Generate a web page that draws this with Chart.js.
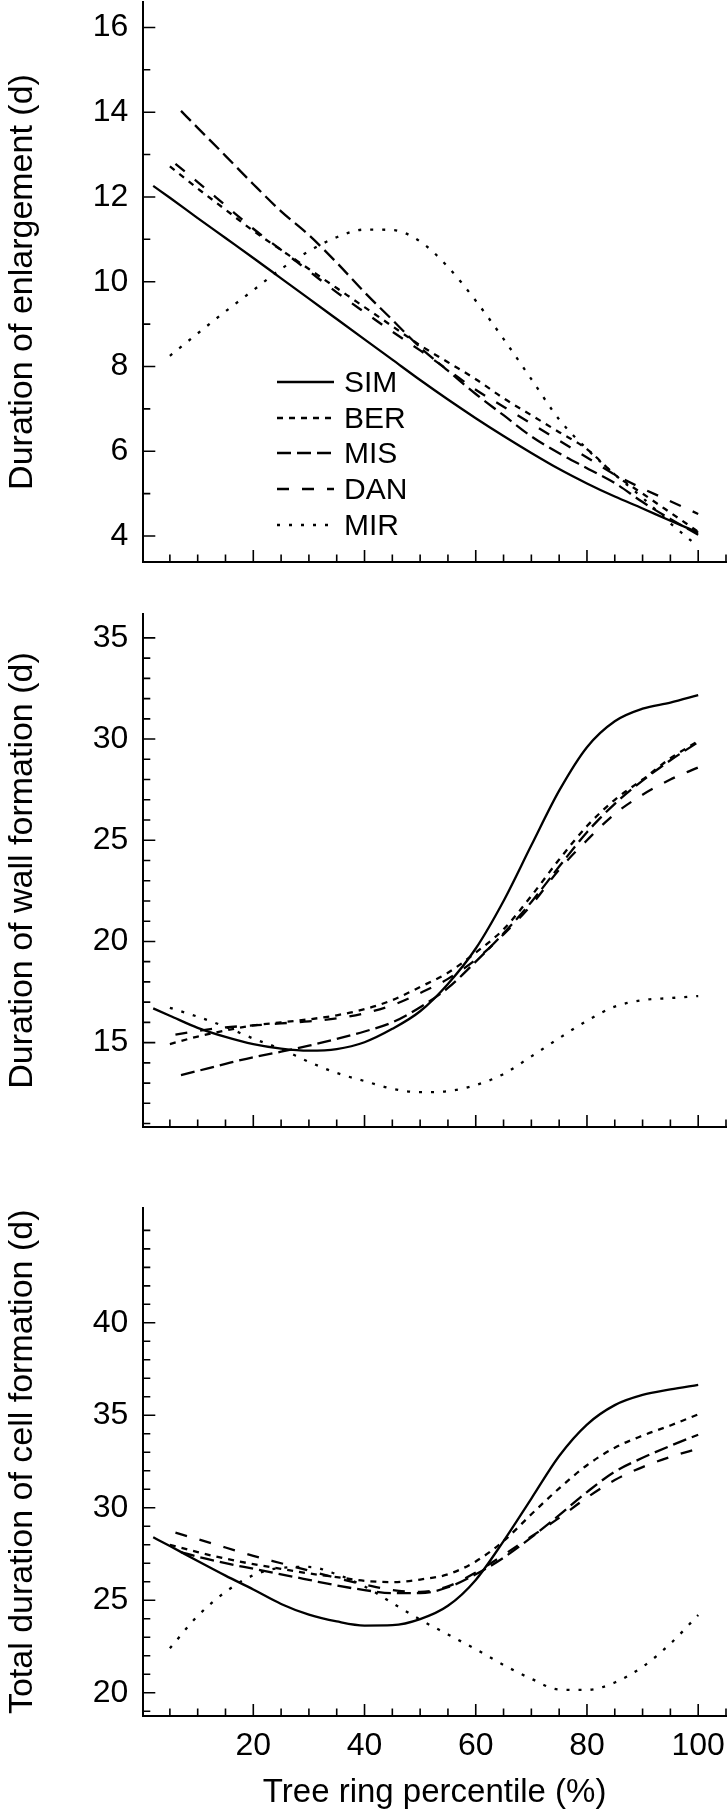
<!DOCTYPE html>
<html>
<head>
<meta charset="utf-8">
<script src="https://cdn.jsdelivr.net/npm/chart.js@4.4.1/dist/chart.umd.min.js"></script>
<style>
  html, body { margin: 0; padding: 0; background: #fff; }
  body { position: relative; width: 728px; height: 1813px; overflow: hidden; font-family: "Liberation Sans", Arial, sans-serif; }
  canvas { position: absolute; left: 0; }
  #legend { position: absolute; left: 277px; top: 364px; }
  .row { display: flex; align-items: center; height: 35.8px; line-height: 30px; font-size: 30px; color: #000; }
  .row svg { margin-right: 10px; }
</style>
</head>
<body>
<canvas id="enl" width="728" height="600" style="top:0;width:728px;height:600px"></canvas>
<canvas id="wall" width="728" height="580" style="top:600px;width:728px;height:580px"></canvas>
<canvas id="total" width="728" height="633" style="top:1180px;width:728px;height:633px"></canvas>
<div id="legend"></div>
<script>
// tree ring percentile (x) for each series
const pctSim = [2, 5, 10, 15, 20, 25, 30, 35, 40, 45, 50, 55, 60, 65, 70, 75, 80, 85, 90, 95, 100]
const pctBer = [5, 10, 15, 20, 25, 30, 35, 40, 45, 50, 55, 60, 65, 70, 75, 80, 85, 90, 95, 100]
const pctMis = [7, 10, 15, 20, 25, 30, 35, 40, 45, 50, 55, 60, 65, 70, 75, 80, 85, 90, 95, 100]
const pctDan = [6, 10, 15, 20, 25, 30, 35, 40, 45, 50, 55, 60, 65, 70, 75, 80, 85, 90, 95, 100]
const pctMir = [5, 10, 15, 20, 25, 30, 35, 40, 45, 50, 55, 60, 65, 70, 75, 80, 85, 90, 95, 100]

const seriesNames = ['SIM', 'BER', 'MIS', 'DAN', 'MIR']

// duration of enlargement (d)
const enlSim = [12.26, 11.98, 11.5, 11.03, 10.56, 10.08, 9.6, 9.12, 8.64, 8.16, 7.68, 7.22, 6.78, 6.36, 5.96, 5.58, 5.24, 4.93, 4.65, 4.36, 4.08]
const enlBer = [12.72, 12.2, 11.7, 11.2, 10.75, 10.3, 9.85, 9.4, 8.95, 8.5, 8.1, 7.7, 7.25, 6.85, 6.45, 6.05, 5.45, 5.0, 4.55, 4.1]
const enlMis = [14.03, 13.63, 12.97, 12.3, 11.66, 11.1, 10.45, 9.75, 9.1, 8.45, 7.9, 7.35, 6.85, 6.35, 5.95, 5.6, 5.25, 4.8, 4.4, 4.03]
const enlDan = [12.78, 12.35, 11.8, 11.25, 10.75, 10.25, 9.75, 9.28, 8.82, 8.38, 7.92, 7.45, 7.05, 6.65, 6.25, 5.85, 5.45, 5.12, 4.82, 4.52]
const enlMir = [8.25, 8.78, 9.3, 9.8, 10.3, 10.72, 11.05, 11.23, 11.22, 10.95, 10.35, 9.55, 8.65, 7.7, 6.75, 6.05, 5.45, 4.9, 4.3, 3.75]

// duration of wall formation (d)
const wallSim = [16.69, 16.33, 15.73, 15.28, 14.92, 14.7, 14.6, 14.68, 15.02, 15.68, 16.55, 17.9, 19.65, 22.0, 24.75, 27.45, 29.6, 30.88, 31.5, 31.8, 32.17]
const wallBer = [14.93, 15.3, 15.6, 15.85, 16.0, 16.15, 16.35, 16.65, 17.1, 17.75, 18.45, 19.45, 20.6, 22.25, 24.05, 25.7, 27.0, 28.0, 29.05, 29.9]
const wallMis = [13.39, 13.6, 13.95, 14.28, 14.55, 14.85, 15.18, 15.55, 16.0, 16.75, 17.7, 19.0, 20.4, 21.95, 23.7, 25.4, 26.8, 27.95, 28.95, 29.85]
const wallDan = [15.4, 15.58, 15.75, 15.85, 15.95, 16.05, 16.2, 16.45, 16.85, 17.45, 18.15, 19.1, 20.35, 21.8, 23.55, 25.0, 26.3, 27.25, 28.0, 28.6]
const wallMir = [16.72, 16.28, 15.78, 15.2, 14.68, 14.05, 13.5, 13.1, 12.72, 12.55, 12.6, 12.9, 13.45, 14.32, 15.22, 16.08, 16.78, 17.1, 17.2, 17.3]

// total duration of cell formation (d)
const totSim = [28.4, 27.93, 27.12, 26.33, 25.58, 24.8, 24.22, 23.85, 23.63, 23.65, 23.98, 24.7, 26.1, 28.2, 30.5, 32.8, 34.5, 35.55, 36.1, 36.4, 36.65]
const totBer = [28.0, 27.6, 27.25, 26.95, 26.7, 26.45, 26.25, 26.05, 25.98, 26.12, 26.4, 27.1, 28.2, 29.65, 31.05, 32.3, 33.25, 33.9, 34.45, 35.05]
const totMis = [27.6, 27.35, 27.0, 26.7, 26.4, 26.1, 25.8, 25.55, 25.38, 25.38, 25.7, 26.4, 27.3, 28.4, 29.6, 30.85, 31.95, 32.7, 33.35, 33.95]
const totDan = [28.65, 28.3, 27.85, 27.4, 27.0, 26.6, 26.2, 25.85, 25.55, 25.45, 25.75, 26.5, 27.45, 28.45, 29.45, 30.55, 31.5, 32.2, 32.75, 33.2]
const totMir = [22.4, 24.15, 25.45, 26.35, 26.75, 26.8, 26.4, 25.75, 24.85, 23.95, 23.15, 22.35, 21.5, 20.75, 20.17, 20.15, 20.55, 21.4, 22.65, 24.2]

// tick labels
const pctTicks = [20, 40, 60, 80, 100]
const enlTicks = [4, 6, 8, 10, 12, 14, 16]
const wallTicks = [15, 20, 25, 30, 35]
const totTicks = [20, 25, 30, 35, 40]

const pcts = [pctSim, pctBer, pctMis, pctDan, pctMir]
const dashes = [[], [6, 6], [14, 6], [12, 13], [3, 9]]
const FONT = '"Liberation Sans", Arial, sans-serif'

Chart.defaults.font.family = FONT
Chart.defaults.color = '#000'

const insideTicks = {
  id: 'insideTicks',
  afterDraw(chart, args, opts) {
    const { ctx, chartArea: a, scales: { x, y } } = chart
    ctx.save()
    ctx.strokeStyle = '#000'
    ctx.lineWidth = 1.6
    ctx.beginPath()
    for (let v = 5; v <= x.max; v += 5) {
      const px = x.getPixelForValue(v)
      const len = pctTicks.includes(v) ? 12 : 7.5
      ctx.moveTo(px, a.bottom)
      ctx.lineTo(px, a.bottom - len)
    }
    for (let v = Math.ceil(y.min); v <= y.max; v += 1) {
      const py = y.getPixelForValue(v)
      if (py - a.top < 5) continue
      const len = opts.major.includes(v) ? 12 : 7
      ctx.moveTo(a.left, py)
      ctx.lineTo(a.left + len, py)
    }
    ctx.stroke()
    ctx.restore()
  }
}

function makeChart(id, values, yTicks, yMin, yMax, yTitle, box) {
  const datasets = seriesNames.map((name, i) => ({
    label: name,
    data: pcts[i].map((p, j) => ({ x: p, y: values[i][j] })),
    borderColor: '#000',
    borderWidth: 2.3,
    borderDash: dashes[i],
    borderCapStyle: 'butt',
    pointRadius: 0,
    fill: false,
    cubicInterpolationMode: 'monotone'
  }))

  return new Chart(document.getElementById(id), {
    type: 'line',
    data: { datasets },
    plugins: [insideTicks],
    options: {
      responsive: false,
      animation: false,
      devicePixelRatio: 1,
      layout: { padding: { top: box.top, right: 2, left: 0, bottom: 0 } },
      plugins: {
        legend: { display: false },
        tooltip: { enabled: false },
        insideTicks: { major: yTicks }
      },
      scales: {
        x: {
          type: 'linear',
          min: 0.22,
          max: 105,
          afterBuildTicks: s => { s.ticks = pctTicks.map(v => ({ value: v })) },
          afterFit: s => { s.height = box.xHeight; s.paddingLeft = 0; s.paddingRight = 0 },
          ticks: { display: box.labels, font: { size: 32 }, padding: 11, maxRotation: 0, autoSkip: false },
          grid: { display: true, drawOnChartArea: false, drawTicks: false },
          border: { display: true, width: 2, color: '#000' },
          title: { display: box.labels, text: 'Tree ring percentile (%)', font: { size: 33 }, padding: { top: 0, bottom: 0 } }
        },
        y: {
          type: 'linear',
          min: yMin,
          max: yMax,
          afterBuildTicks: s => { s.ticks = yTicks.map(v => ({ value: v })) },
          afterFit: s => { s.width = 143.3; s.paddingTop = 0; s.paddingBottom = 0 },
          ticks: { font: { size: 32 }, padding: 15 },
          grid: { display: true, drawOnChartArea: false, drawTicks: false },
          border: { display: true, width: 2, color: '#000' },
          title: { display: true, text: yTitle, font: { size: 34 }, padding: { top: 2, bottom: 0 } }
        }
      }
    }
  })
}

makeChart('enl', [enlSim, enlBer, enlMis, enlDan, enlMir], enlTicks, 3.386, 16.6,
  'Duration of enlargement (d)', { top: 2, xHeight: 38, labels: false })
makeChart('wall', [wallSim, wallBer, wallMis, wallDan, wallMir], wallTicks, 10.83, 36.18,
  'Duration of wall formation (d)', { top: 14, xHeight: 53, labels: false })
makeChart('total', [totSim, totBer, totMis, totDan, totMir], totTicks, 18.74, 46.23,
  'Total duration of cell formation (d)', { top: 27.6, xHeight: 97, labels: true })

// legend inside the top panel
const legend = document.getElementById('legend')
seriesNames.forEach((name, i) => {
  const row = document.createElement('div')
  row.className = 'row'
  row.innerHTML = `<svg width="57" height="6"><line x1="0" y1="3" x2="57" y2="3" stroke="#000" stroke-width="2.3" stroke-dasharray="${dashes[i].join(' ') || 'none'}"/></svg><span>${name}</span>`
  legend.appendChild(row)
})
</script>
</body>
</html>
